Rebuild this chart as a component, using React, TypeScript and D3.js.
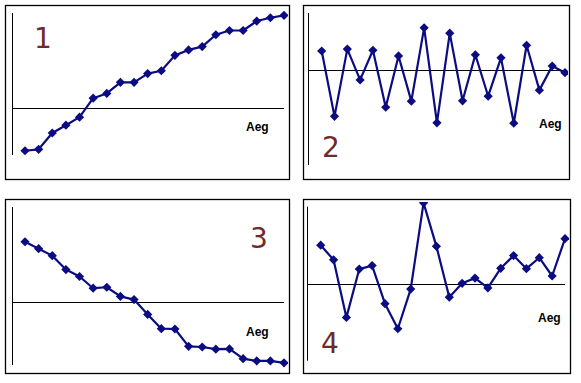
import React from "react";
import * as d3 from "d3";

const steps = d3.range(1, 21);
const axisLabel = "Aeg";
const panelLabels = ["1", "2", "3", "4"];

const series1 = [-0.91, -0.88, -0.535, -0.37, -0.2, 0.2, 0.3, 0.535, 0.535, 0.72, 0.78, 1.105, 1.22, 1.29, 1.54, 1.63, 1.63, 1.83, 1.9, 1.95];
const series2 = [0.5, -1.22, 0.55, -0.26, 0.52, -0.98, 0.37, -0.82, 1.11, -1.39, 0.97, -0.81, 0.4, -0.69, 0.32, -1.4, 0.65, -0.53, 0.105, -0.07];
const series3 = [1.9, 1.68, 1.46, 1.02, 0.8, 0.43, 0.46, 0.17, 0.07, -0.4, -0.85, -0.86, -1.41, -1.43, -1.5, -1.49, -1.8, -1.87, -1.87, -1.93];
const series4 = [1.0, 0.62, -0.875, 0.38, 0.47, -0.52, -1.17, -0.14, 2.1, 0.97, -0.35, 0.01, 0.145, -0.11, 0.4, 0.73, 0.39, 0.675, 0.2, 1.17];

const domains: [number, number][] = [[-1, 2], [-2.5, 1.5], [-2, 3], [-2, 2]];
const seriesList = [series1, series2, series3, series4];

type Layout = {
  box: [number, number, number, number];
  axisX: number;
  axisTop: number;
  axisBottom: number;
  xStart: number;
  xEnd: number;
  zeroEnd: number;
  label: [number, number];
  aeg: [number, number];
};

const layouts: Layout[] = [
  { box: [5, 5, 289, 179], axisX: 12, axisTop: 13, axisBottom: 155, xStart: 25, xEnd: 284, zeroEnd: 284, label: [34, 48], aeg: [246, 131] },
  { box: [303, 5, 569, 179], axisX: 308, axisTop: 13, axisBottom: 165, xStart: 321.7, xEnd: 565, zeroEnd: 567, label: [322, 157], aeg: [539, 128] },
  { box: [5, 199, 289, 373], axisX: 12, axisTop: 207, axisBottom: 365, xStart: 25, xEnd: 284, zeroEnd: 284, label: [250, 248], aeg: [246, 336] },
  { box: [303, 199, 570, 373], axisX: 307, axisTop: 206.7, axisBottom: 360.7, xStart: 320.7, xEnd: 565, zeroEnd: 565, label: [321, 353], aeg: [538, 322] },
];

const LINE = "#0b0b82";
const LABEL = "#6e2b2b";

function Panel({ idx }: { idx: number }) {
  const L = layouts[idx];
  const values = seriesList[idx];
  const x = d3.scaleLinear().domain([1, 20]).range([L.xStart, L.xEnd]);
  const y = d3.scaleLinear().domain(domains[idx]).range([L.axisBottom, L.axisTop]);
  const line = d3.line<number>().x((_, i) => x(steps[i])).y((v) => y(v));
  const [bx0, by0, bx1, by1] = L.box;
  const clipId = `clip${idx}`;
  const diamond = "M0,-4.6L4.6,0L0,4.6L-4.6,0Z";
  return (
    <g>
      <defs>
        <clipPath id={clipId}>
          <rect x={bx0 + 1} y={by0 + 3} width={bx1 - bx0 - 2} height={by1 - by0 - 4} />
        </clipPath>
      </defs>
      <rect x={bx0 + 0.5} y={by0 + 0.5} width={bx1 - bx0} height={by1 - by0} fill="white" stroke="black" strokeWidth={1.3} />
      <line x1={L.axisX + 0.5} x2={L.axisX + 0.5} y1={L.axisTop} y2={L.axisBottom} stroke="black" strokeWidth={1} />
      <line x1={L.axisX} x2={L.zeroEnd} y1={Math.round(y(0)) + 0.5} y2={Math.round(y(0)) + 0.5} stroke="black" strokeWidth={1} />
      <text x={L.label[0]} y={L.label[1]} fontFamily="DejaVu Sans, sans-serif" fontSize={28} fill={LABEL}>
        {panelLabels[idx]}
      </text>
      <text x={L.aeg[0]} y={L.aeg[1]} fontFamily="Liberation Sans, Arial, sans-serif" fontWeight="bold" fontSize={12} fill="black">
        {axisLabel}
      </text>
      <g clipPath={`url(#${clipId})`}>
        <path d={line(values) || ""} fill="none" stroke={LINE} strokeWidth={2.2} strokeLinejoin="round" />
        {values.map((v, i) => (
          <path key={i} d={diamond} transform={`translate(${x(steps[i])},${y(v)})`} fill={LINE} />
        ))}
      </g>
    </g>
  );
}

export default function App() {
  return (
    <svg width={581} height={383} style={{ position: "absolute", left: 0, top: 0, background: "white" }}>
      <rect width={581} height={383} fill="white" />
      {[0, 1, 2, 3].map((i) => (
        <Panel key={i} idx={i} />
      ))}
    </svg>
  );
}
